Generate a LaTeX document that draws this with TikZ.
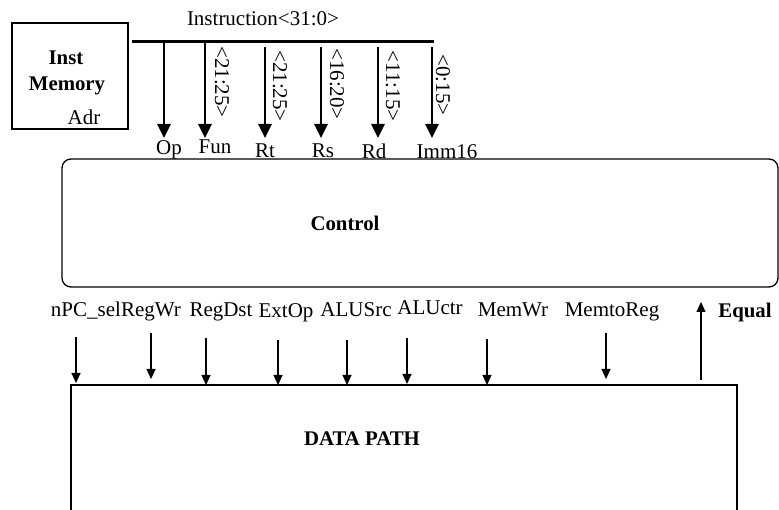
\documentclass[tikz,border=0pt]{standalone}
\usepackage{fontspec}
\setmainfont{Liberation Serif}
\usetikzlibrary{arrows.meta}
\begin{document}
\begin{tikzpicture}[x=1pt,y=-1pt,
  lbl/.style={font=\fontsize{21}{25}\selectfont, inner sep=0pt},
  blbl/.style={font=\fontsize{20.8}{25}\selectfont\bfseries, inner sep=0pt},
  thickarr/.style={line width=2.6pt, -{Triangle[width=13pt,length=14pt]}},
  thinarr/.style={line width=1.1pt, -{Triangle[width=9pt,length=10pt]}},
  boxline/.style={line width=1.3pt}]
\useasboundingbox (0,0) rectangle (779,510);

% Instruction memory
\node[draw, line width=2.5pt, minimum width=116pt, minimum height=106pt, inner sep=0pt] (im) at (70,76) {};
\node[blbl] (inst) at (66,58) {Inst};
\node[blbl] (mem) at (67,86) {Memory};
\node[lbl, anchor=base] (adr) at (84,125) {Adr};

% instruction bus
\node[lbl, anchor=base] (instr) at (263,25.5) {Instruction<31:0>};
\coordinate (busL) at (132,42);
\coordinate (busR) at (434,42);
\draw[line width=3pt] (busL) -- (busR);

% bit-field taps
\coordinate (sOp) at (164,42);  \coordinate (tOp) at (164,138);
\coordinate (sFun) at (205,42); \coordinate (tFun) at (205,138);
\coordinate (sRt) at (265,47);  \coordinate (tRt) at (265,138);
\coordinate (sRs) at (321,47);  \coordinate (tRs) at (321,138);
\coordinate (sRd) at (378,47);  \coordinate (tRd) at (378,138);
\coordinate (sImm) at (432,47); \coordinate (tImm) at (432,138);
\foreach \n in {Op,Fun,Rt,Rs,Rd,Imm} \draw[thickarr] (s\n) -- (t\n);

\node[lbl] (op) at (169,150) {Op};
\node[lbl] (fun) at (215,147) {Fun};
\node[lbl] (rt) at (265,151) {Rt};
\node[lbl] (rs) at (323,151) {Rs};
\node[lbl] (rd) at (374,151) {Rd};
\node[lbl] (imm) at (447,152) {Imm16};

\node[lbl, rotate=-90] (bFun) at (222,82) {<21:25>};
\node[lbl, rotate=-90] (bRt) at (280,86) {<21:25>};
\node[lbl, rotate=-90] (bRs) at (337,84) {<16:20>};
\node[lbl, rotate=-90] (bRd) at (393,86) {<11:15>};
\node[lbl, rotate=-90] (bImm) at (443,85) {<0:15>};

% Control
\node[draw, boxline, rounded corners=9pt, minimum width=716pt, minimum height=128pt, inner sep=0pt] (ctrl) at (420,223) {};
\node[blbl] (ctrltxt) at (345,223) {Control};

% control signal labels
\node[lbl, anchor=base] (npc) at (86,317) {nPC\_sel};
\node[lbl, anchor=base] (regwr) at (151,317) {RegWr};
\node[lbl, anchor=base] (regdst) at (221,317) {RegDst};
\node[lbl, anchor=base] (extop) at (286,318) {ExtOp};
\node[lbl, anchor=base] (alusrc) at (356,317) {ALUSrc};
\node[lbl, anchor=base] (aluctr) at (430,315) {ALUctr};
\node[lbl, anchor=base] (memwr) at (513,317) {MemWr};
\node[lbl, anchor=base] (memtoreg) at (612,317) {MemtoReg};
\node[blbl, anchor=base] (equal) at (745,318) {Equal};

% control signal arrows
\coordinate (a1) at (76,337);  \coordinate (b1) at (76,383);
\coordinate (a2) at (151,333); \coordinate (b2) at (151,379);
\coordinate (a3) at (206,338); \coordinate (b3) at (206,385);
\coordinate (a4) at (278,340); \coordinate (b4) at (278,385);
\coordinate (a5) at (347,340); \coordinate (b5) at (347,385);
\coordinate (a6) at (407,338); \coordinate (b6) at (407,384);
\coordinate (a7) at (487,339); \coordinate (b7) at (487,385);
\coordinate (a8) at (606,333); \coordinate (b8) at (606,379);
\foreach \i in {1,...,8} \draw[thinarr] (a\i) -- (b\i);
\coordinate (eqS) at (701,380); \coordinate (eqT) at (701,302);
\draw[thinarr] (eqS) -- (eqT);

% Data path (open at the bottom)
\coordinate (dpBL) at (71,515);
\coordinate (dpTL) at (71,385);
\coordinate (dpTR) at (737,385);
\coordinate (dpBR) at (737,515);
\draw[boxline] (dpBL) -- (dpTL) -- (dpTR) -- (dpBR);
\node[blbl] (dp) at (362,438.5) {DATA PATH};
\end{tikzpicture}
\end{document}
